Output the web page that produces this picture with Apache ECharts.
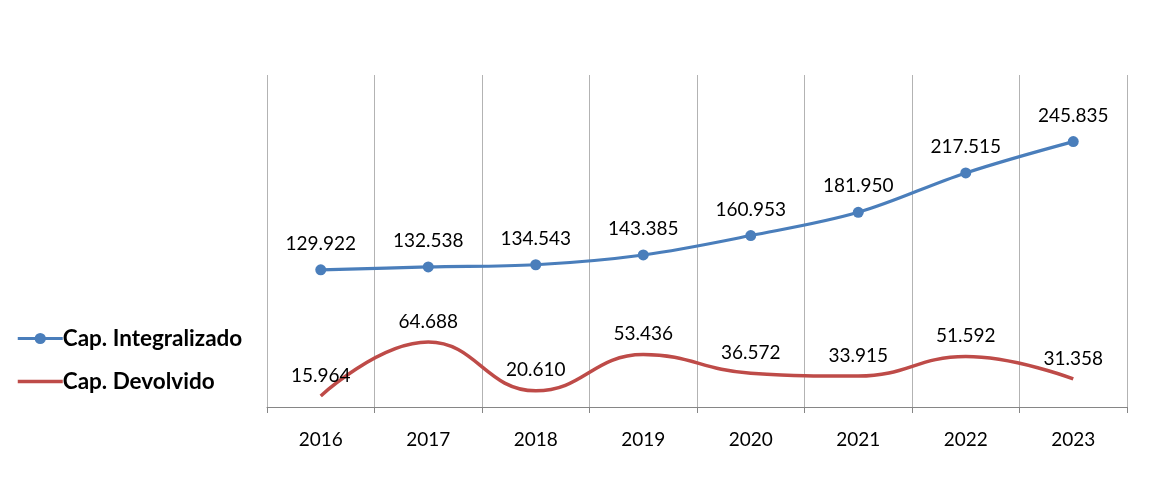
<!DOCTYPE html>
<html>
<head>
<meta charset="utf-8">
<script src="https://cdn.jsdelivr.net/npm/echarts@6/dist/echarts.min.js"></script>
<style>html,body{margin:0;padding:0;background:#fff;}#c{width:1167px;height:484px;}</style>
</head>
<body>
<div id="c"></div>
<script>
const categories = ['2016','2017','2018','2019','2020','2021','2022','2023'];
const capIntegralizado = [129922, 132538, 134543, 143385, 160953, 181950, 217515, 245835];
const capDevolvido = [15964, 64688, 20610, 53436, 36572, 33915, 51592, 31358];
const seriesNames = ['Cap. Integralizado', 'Cap. Devolvido'];

function fmt(v) { return String(v).replace(/\B(?=(\d{3})+(?!\d))/g, '.'); }

const chart = echarts.init(document.getElementById('c'));
const labelStyle = {show: true, position: 'top', distance: 11, color: '#000', fontSize: 19, fontFamily: 'Lato', formatter: p => fmt(p.value)};
chart.setOption({
  animation: false,
  grid: {left: 267, right: 40, top: 75, bottom: 77},
  legend: {
    orient: 'vertical', left: 11, top: 322, itemWidth: 45, itemHeight: 14, itemGap: 20,
    textStyle: {fontFamily: 'Lato', fontSize: 22.5, fontWeight: 'bold', color: '#000', padding: [0,0,0,-5]},
    data: [
      {name: seriesNames[0], lineStyle: {width: 3}},
      {name: seriesNames[1], lineStyle: {width: 3.5}, itemStyle: {color: 'rgba(0,0,0,0)', borderWidth: 0}}
    ]
  },
  xAxis: {
    type: 'category', data: categories, boundaryGap: true,
    axisLine: {lineStyle: {color: '#868686', width: 1}},
    axisTick: {show: true, length: 6, lineStyle: {color: '#868686'}},
    axisLabel: {color: '#000', fontSize: 19, fontFamily: 'Lato', margin: 23},
    splitLine: {show: true, lineStyle: {color: '#b3b3b3', width: 1}}
  },
  yAxis: {
    type: 'value', min: 6000, max: 306000, show: false, splitLine: {show: false}
  },
  series: [
    {
      name: seriesNames[0], type: 'line', data: capIntegralizado, smooth: 0.35,
      symbol: 'circle', symbolSize: 11,
      lineStyle: {color: '#4a7ebb', width: 3.2},
      itemStyle: {color: '#4a7ebb'},
      label: labelStyle
    },
    {
      name: seriesNames[1], type: 'line', data: capDevolvido, smooth: 0.45,
      symbol: 'circle', symbolSize: 0,
      lineStyle: {color: '#be4b48', width: 3.5},
      itemStyle: {color: '#be4b48'},
      label: labelStyle
    }
  ]
});
</script>
</body>
</html>
